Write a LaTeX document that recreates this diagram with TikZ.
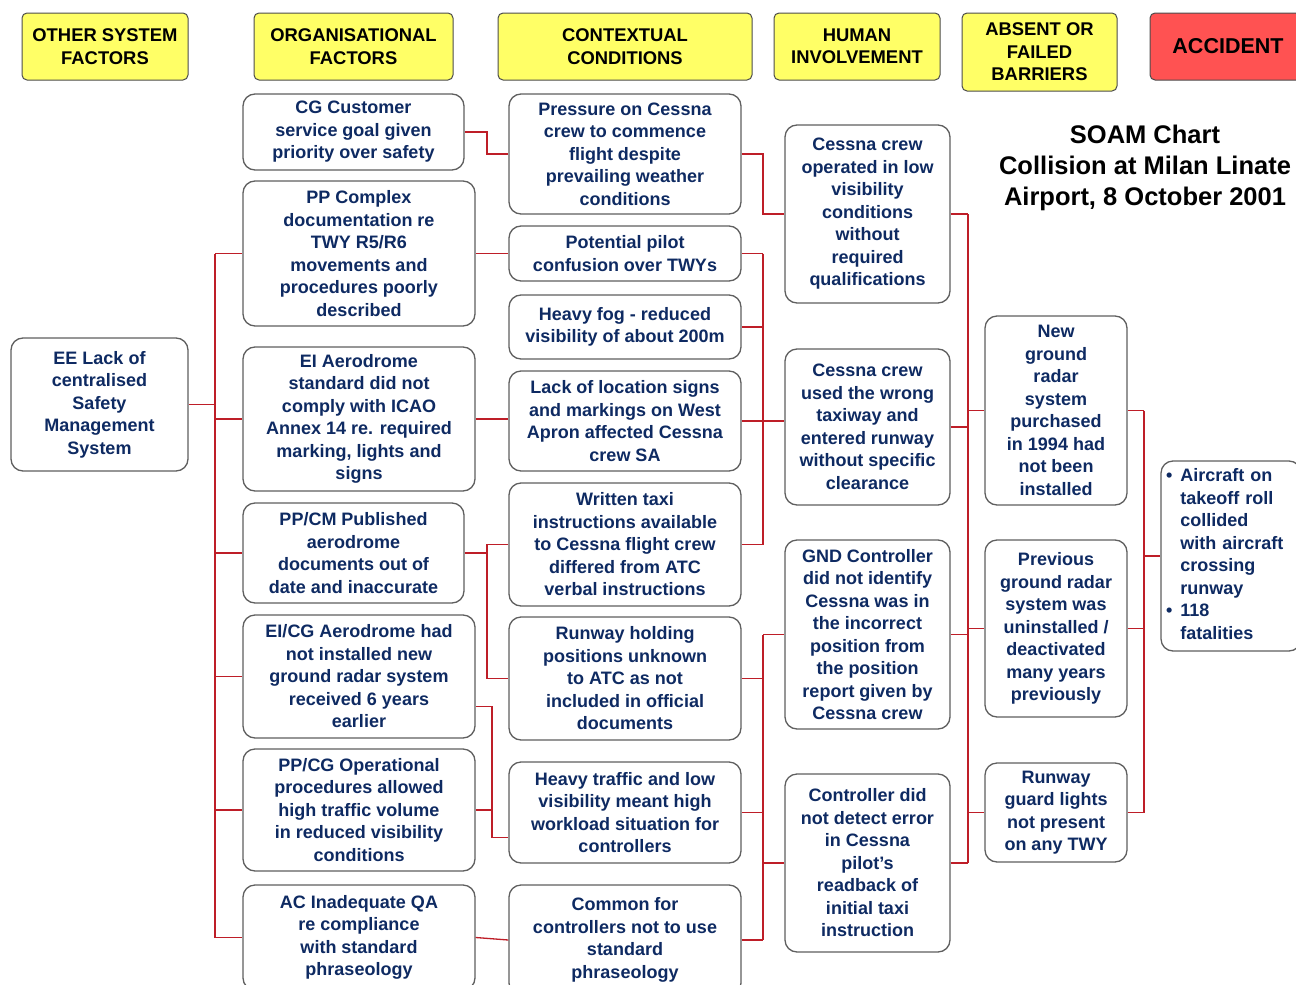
\documentclass[tikz,border=0pt]{standalone}
\usepackage{fontspec}
\setmainfont{Liberation Sans}
\usetikzlibrary{calc}
\definecolor{navy}{RGB}{14,42,98}
\definecolor{linkred}{RGB}{190,30,40}
\definecolor{hdryellow}{RGB}{255,255,102}
\definecolor{accred}{RGB}{255,82,82}
\definecolor{boxgray}{RGB}{95,95,95}
\newcommand{\boxfont}{\fontsize{18}{22.5}\selectfont\bfseries}
\newcommand{\hdrfont}{\fontsize{18.4}{22.5}\selectfont\bfseries}

\begin{document}
\begin{tikzpicture}[x=1pt, y=-1pt,
  box/.style={draw=boxgray, line width=1.3pt, rounded corners=12pt, fill=white,
              align=center, font=\boxfont, text=navy, inner sep=2pt},
  hdr/.style={draw=black!70, line width=1pt, rounded corners=5pt, fill=hdryellow,
              align=center, font=\hdrfont, minimum height=67pt, inner sep=2pt},
  link/.style={draw=linkred, line width=1.3pt}]
\useasboundingbox (0,0) rectangle (1296,985);
\node[hdr, minimum width=166pt] (hOther) at (105,46.5) {OTHER SYSTEM\\FACTORS};
\node[hdr, minimum width=199pt] (hOrg) at (353.5,46.5) {ORGANISATIONAL\\FACTORS};
\node[hdr, minimum width=254pt] (hCtx) at (625,46.5) {CONTEXTUAL\\CONDITIONS};
\node[hdr, minimum width=166pt] (hHum) at (857,46.5) {HUMAN\\INVOLVEMENT};
\node[hdr, minimum width=155pt, minimum height=78pt] (hBar) at (1039.5,52) {ABSENT OR\\FAILED\\BARRIERS};
\node[hdr, fill=accred, minimum width=156pt, font=\fontsize{21.5}{26}\selectfont\bfseries] (hAcc) at (1228,46.5) {ACCIDENT};
\node[align=center, font=\fontsize{25.5}{31}\selectfont\bfseries] (title) at (1145,168) {SOAM Chart\\Collision at Milan Linate\\Airport, 8 October 2001};
\node[box, minimum width=177pt, minimum height=133pt] (ee) at (99.5,404.5) {EE Lack of\\centralised\\Safety\\Management\\System};
\node[box, minimum width=221pt, minimum height=76pt] (cgc) at (353.5,132) {CG Customer\\service goal given\\priority over safety};
\node[box, minimum width=232pt, minimum height=145pt] (ppc) at (359,253.5) {PP Complex\\documentation re\\TWY R5/R6\\movements and\\procedures poorly\\described};
\node[box, minimum width=232pt, minimum height=144pt] (eia) at (359,419) {EI Aerodrome\\standard did not\\comply with ICAO\\Annex 14 re. required\\marking, lights and\\signs};
\node[box, minimum width=221pt, minimum height=100pt] (ppcm) at (353.5,553) {PP/CM Published\\aerodrome\\documents out of\\date and inaccurate};
\node[box, minimum width=232pt, minimum height=123pt] (eicg) at (359,676.5) {EI/CG Aerodrome had\\not installed new\\ground radar system\\received 6 years\\earlier};
\node[box, minimum width=232pt, minimum height=122pt] (ppcg) at (359,810) {PP/CG Operational\\procedures allowed\\high traffic volume\\in reduced visibility\\conditions};
\node[box, minimum width=232pt, minimum height=105pt] (acqa) at (359,937.5) {AC Inadequate QA\\re compliance\\with standard\\phraseology};
\node[box, minimum width=232pt, minimum height=120pt] (press) at (625,154) {Pressure on Cessna\\crew to commence\\flight despite\\prevailing weather\\conditions};
\node[box, minimum width=232pt, minimum height=55pt] (pot) at (625,253.5) {Potential pilot\\confusion over TWYs};
\node[box, minimum width=232pt, minimum height=64pt] (fog) at (625,327) {Heavy fog - reduced\\visibility of about 200m};
\node[box, minimum width=232pt, minimum height=100pt] (lack) at (625,421) {Lack of location signs\\and markings on West\\Apron affected Cessna\\crew SA};
\node[box, minimum width=232pt, minimum height=123pt] (writ) at (625,544.5) {Written taxi\\instructions available\\to Cessna flight crew\\differed from ATC\\verbal instructions};
\node[box, minimum width=232pt, minimum height=123pt] (rwy) at (625,678.5) {Runway holding\\positions unknown\\to ATC as not\\included in official\\documents};
\node[box, minimum width=232pt, minimum height=101pt] (traf) at (625,812.5) {Heavy traffic and low\\visibility meant high\\workload situation for\\controllers};
\node[box, minimum width=232pt, minimum height=110pt] (comm) at (625,940) {Common for\\controllers not to use\\standard\\phraseology};
\node[box, minimum width=165pt, minimum height=178pt] (hum1) at (867.5,214) {Cessna crew\\operated in low\\visibility\\conditions\\without\\required\\qualifications};
\node[box, minimum width=165pt, minimum height=156pt] (hum2) at (867.5,427) {Cessna crew\\used the wrong\\taxiway and\\entered runway\\without specific\\clearance};
\node[box, minimum width=165pt, minimum height=189pt] (hum3) at (867.5,634.5) {GND Controller\\did not identify\\Cessna was in\\the incorrect\\position from\\the position\\report given by\\Cessna crew};
\node[box, minimum width=165pt, minimum height=178pt] (hum4) at (867.5,863) {Controller did\\not detect error\\in Cessna\\pilot’s\\readback of\\initial taxi\\instruction};
\node[box, minimum width=142pt, minimum height=189pt] (bar1) at (1056,410.5) {New\\ground\\radar\\system\\purchased\\in 1994 had\\not been\\installed};
\node[box, minimum width=142pt, minimum height=177pt] (bar2) at (1056,628.5) {Previous\\ground radar\\system was\\uninstalled /\\deactivated\\many years\\previously};
\node[box, minimum width=142pt, minimum height=99pt] (bar3) at (1056,812.5) {Runway\\guard lights\\not present\\on any TWY};
\node[box, align=left, text width=130pt, inner xsep=5pt, minimum height=190pt] (acc) at (1231,556)
  {\begin{tabular}{@{}l@{\hspace{8pt}}l@{}}
   \textbullet & Aircraft on\\ & takeoff roll\\ & collided\\ & with aircraft\\ & crossing\\ & runway\\
   \textbullet & 118\\ & fatalities
   \end{tabular}};
\coordinate (sA) at (215,0);
\coordinate (cA) at (487,0);
\coordinate (cB) at (492,0);
\coordinate (hA) at (763,0);
\coordinate (bA) at (968,0);
\coordinate (aA) at (1144,0);
\coordinate (eicgR) at ([yshift=-30pt]eicg.east);
\coordinate (trafL) at ([yshift=-25pt]traf.west);
\draw[link] (ee.east) -- (ee.east -| sA);
\draw[link] (ppc.west -| sA) -- (acqa.west -| sA);
\foreach \n in {ppc,eia,ppcm,eicg,ppcg,acqa}
  \draw[link] (\n.west -| sA) -- (\n.west);
\draw[link] (cgc.east) -- (cgc.east -| cA) -- (press.west -| cA) -- (press.west);
\draw[link] (ppc.east) -- (pot.west);
\draw[link] (eia.east) -- (eia.east -| lack.west);
\draw[link] (ppcm.east) -- (ppcm.east -| cA);
\draw[link] (writ.west) -- (writ.west -| cA) -- (rwy.west -| cA) -- (rwy.west);
\draw[link] (eicgR) -- (eicgR -| cB) -- (trafL -| cB) -- (trafL);
\draw[link] (ppcg.east) -- (ppcg.east -| cB);
\draw[link] (acqa.east) -- (comm.west);
\draw[link] (press.east) -- (press.east -| hA) -- (hum1.west -| hA) -- (hum1.west);
\draw[link] (pot.east -| hA) -- (writ.east -| hA);
\foreach \n in {pot,fog,lack,writ}
  \draw[link] (\n.east) -- (\n.east -| hA);
\draw[link] (lack.east -| hA) -- (lack.east -| hum2.west);
\draw[link] (hum3.west -| hA) -- (comm.east -| hA);
\foreach \n in {rwy,traf,comm}
  \draw[link] (\n.east) -- (\n.east -| hA);
\foreach \n in {hum3,hum4}
  \draw[link] (\n.west -| hA) -- (\n.west);
\draw[link] (hum1.east -| bA) -- (hum4.east -| bA);
\foreach \n in {hum1,hum2,hum3,hum4}
  \draw[link] (\n.east) -- (\n.east -| bA);
\foreach \n in {bar1,bar2,bar3}
  \draw[link] (\n.west -| bA) -- (\n.west);
\draw[link] (bar1.east -| aA) -- (bar3.east -| aA);
\foreach \n in {bar1,bar2,bar3}
  \draw[link] (\n.east) -- (\n.east -| aA);
\draw[link] (acc.west -| aA) -- (acc.west);
\end{tikzpicture}
\end{document}
